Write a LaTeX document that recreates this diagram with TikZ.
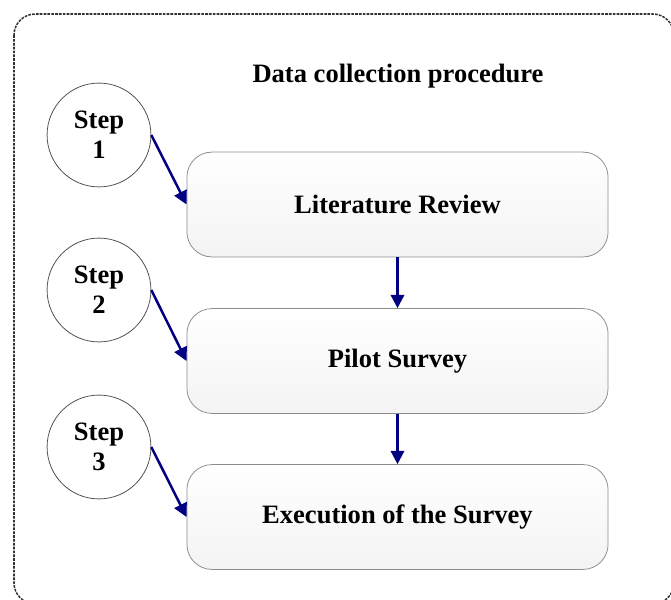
\documentclass[tikz,border=0pt]{standalone}
\usepackage{fontspec}
\setmainfont{Liberation Serif}
\usetikzlibrary{arrows.meta}
\definecolor{stepblue}{RGB}{0,0,128}
\newcommand{\boxfont}{\fontsize{13.8}{15.5}\selectfont\bfseries}
\tikzset{
  stepcircle/.style={circle, draw=black!70, thin, minimum size=54pt, inner sep=0pt,
    align=center, font=\boxfont},
  stagebox/.style={draw=black!45, rounded corners=13pt, minimum width=219pt,
    minimum height=54.5pt, top color=white, bottom color=gray!9, font=\boxfont},
  flow/.style={-{Triangle[length=7pt,width=7pt]}, line width=1.3pt, stepblue}
}
\begin{document}
\begin{tikzpicture}[x=0.52pt, y=-0.52pt]
    \useasboundingbox (0,0) rectangle (671,599);

    % Dashed frame (runs off the right and bottom edges)
    \draw[black!80, dash pattern=on 1.4pt off 0.6pt, line width=0.8pt, rounded corners=11pt]
        (14,14) rectangle (674,604);
    \node[font=\boxfont] (title) at (398,76) {Data collection procedure};

    % Steps
    \node[stepcircle] (s1) at (99,135) {Step\\1};
    \node[stepcircle] (s2) at (99,290) {Step\\2};
    \node[stepcircle] (s3) at (99,447) {Step\\3};

    % Stages
    \node[stagebox] (lit) at (397.5,204.5) {Literature Review};
    \node[stagebox] (pilot) at (397.5,361) {Pilot Survey};
    \node[stagebox] (exec) at (397.5,517) {Execution of the Survey};

    % Arrows
    \draw[flow] (s1.east) -- (lit.west);
    \draw[flow] (s2.east) -- (pilot.west);
    \draw[flow] (s3.east) -- (exec.west);
    \draw[flow] (lit) -- (pilot);
    \draw[flow] (pilot) -- (exec);
\end{tikzpicture}
\end{document}
